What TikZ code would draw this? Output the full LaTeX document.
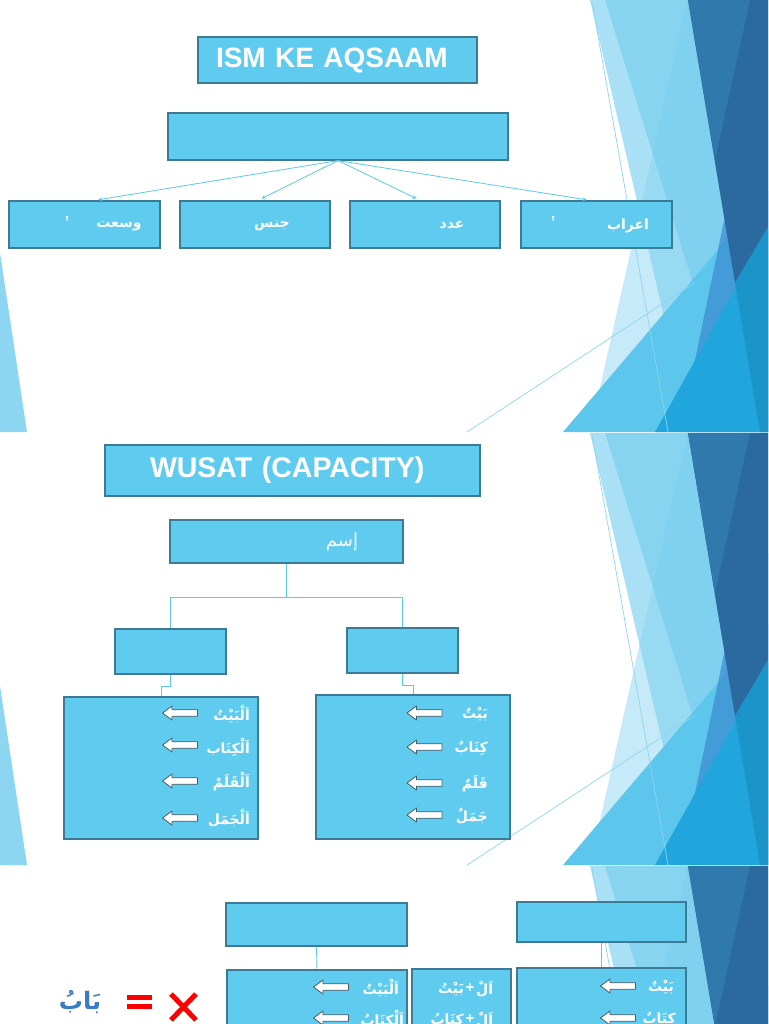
\documentclass[tikz,border=0pt]{standalone}
\usepackage{fontspec}
\setmainfont{Liberation Sans}
\newfontfamily\arabicfont[Script=Arabic]{DejaVu Sans}
\TeXXeTstate=1
\definecolor{boxfill}{HTML}{5FCBEF}
\definecolor{boxline}{HTML}{3D7B95}
\definecolor{conn}{HTML}{5BC8EE}
\definecolor{bgpale}{HTML}{C6EAF8}
\definecolor{bglight}{HTML}{86D4F1}
\definecolor{bgmid}{HTML}{6CCBEE}
\definecolor{bgdark}{HTML}{2A6A9E}
\definecolor{bgdarklight}{HTML}{2F79AD}
\definecolor{bgmedblue}{HTML}{3B8FD0}
\definecolor{bgcyan}{HTML}{5CC6EC}
\definecolor{bgcyandeep}{HTML}{20A6DD}
\definecolor{bgcyandark}{HTML}{1B94CA}
\definecolor{bgline}{HTML}{8AD6F2}
\definecolor{bgleft}{HTML}{8DD6F1}
\definecolor{arrline}{HTML}{4A5A63}
\definecolor{babblue}{HTML}{3A7CC4}
\definecolor{xred}{HTML}{FF0000}
\newcommand\ar[1]{{\arabicfont\bfseries\beginR #1\endR}}
\newcommand\arn[1]{{\arabicfont\beginR #1\endR}}
\newcommand\slidebg[1]{%
\begin{scope}[shift={(0,#1)}]
\clip (0,0) rectangle (768,432);
\fill[bgpale] (590,432) -- (687,0) -- (768,0) -- (768,432) -- cycle;
\fill[bglight, opacity=.7] (590,0) -- (768,0) -- (768,432) -- (691,432) -- cycle;
\fill[bgmid, opacity=.55] (605,0) -- (768,0) -- (768,432) -- (739,432) -- cycle;
\fill[bgcyan] (563,432) -- (768,191) -- (768,432) -- cycle;
\fill[bgmedblue, opacity=.75] (680,432) -- (745,120) -- (768,120) -- (768,432) -- cycle;
\fill[bgdark] (688,0) -- (768,0) -- (768,227) -- (735,283) -- cycle;
\fill[bgdarklight] (688,0) -- (750,0) -- (715,160) -- cycle;
\fill[bgcyandeep] (655,432) -- (768,230) -- (768,432) -- cycle;
\fill[bgcyandark] (735,283) -- (768,227) -- (768,432) -- (760,432) -- cycle;
\draw[bgline, line width=.7] (592,2) -- (668,432);
\draw[bgline, line width=.7] (467,432) -- (694,283);
\fill[bgleft] (0,253) -- (27,432) -- (0,432) -- cycle;
\end{scope}}
\begin{document}
\begin{tikzpicture}[x=1pt,y=-1pt,
  box/.style={draw=boxline, fill=boxfill, line width=1.2pt, inner sep=0pt},
  conline/.style={draw=conn, line width=0.9pt},
  conarrow/.style={draw=conn, line width=0.8pt, -stealth, shorten >=4pt},
  artext/.style={text=white, inner sep=0pt, font=\fontsize{14}{17}\selectfont},
  quotemark/.style={text=white, inner sep=0pt, font=\bfseries\fontsize{16}{18}\selectfont},
  blockarr/.pic={\draw[draw=arrline, fill=white, line width=0.8pt, line join=round]
    (-17.5,0) -- (-8,-7) -- (-8,-3.2) -- (17.5,-3.2) -- (17.5,3.2) -- (-8,3.2) -- (-8,7) -- cycle;},
  titletext/.style={text=white, font=\bfseries\fontsize{28}{30}\selectfont, align=left}
]
\useasboundingbox (0,0) rectangle (768,1024);
\clip (0,0) rectangle (768,1024);
\fill[white] (0,0) rectangle (768,1024);
\slidebg{0}
\slidebg{433}
\slidebg{866}

% ---------- slide 1 ----------
\node[box, titletext, minimum width=279, minimum height=46, text width=243, inner xsep=18] (title1) at (337.5,60) {ISM KE AQSAAM};
\node[box, minimum width=340, minimum height=47] (root) at (338,136.5) {};
\node[box, minimum width=151, minimum height=47] (k1) at (84.5,224.5) {};
\node[box, minimum width=150, minimum height=47] (k2) at (255,224.5) {};
\node[box, minimum width=150, minimum height=47] (k3) at (425,224.5) {};
\node[box, minimum width=151, minimum height=47] (k4) at (596.5,224.5) {};
\draw[conarrow] (root.south) -- ([xshift=10]k1.north);
\draw[conarrow] (root.south) -- ([xshift=3]k2.north);
\draw[conarrow] (root.south) -- ([xshift=-5]k3.north);
\draw[conarrow] (root.south) -- ([xshift=-6]k4.north);
\node[artext] (k1t) at (119,226) {\ar{وسعت}};
\node[quotemark] (k1m) at (67,222) {’};
\node[artext] (k2t) at (272,226) {\ar{جنس}};
\node[artext] (k3t) at (452,225) {\ar{عدد}};
\node[artext] (k4t) at (628,226) {\ar{اعراب}};
\node[quotemark] (k4m) at (553,222) {’};

% ---------- slide 2 ----------
\node[box, titletext, font=\bfseries\fontsize{28.5}{30}\selectfont, minimum width=375, minimum height=51, text width=285, inner xsep=45] (title2) at (292.5,470.5) {WUSAT (CAPACITY)};
\node[box, minimum width=233, minimum height=43] (ism) at (286.5,541.5) {};
\node[artext, font=\fontsize{18}{20}\selectfont] (ismt) at (342,542) {\arn{إسم}};
\node[box, minimum width=111, minimum height=45] (l1) at (170.5,651.5) {};
\node[box, minimum width=111, minimum height=45] (r1) at (402.5,650.5) {};
\node[box, minimum width=194, minimum height=142] (lb) at (161,768) {};
\node[box, minimum width=194, minimum height=144] (rb) at (413,767) {};
\draw[conline] (ism.south) -- ++(0,34) -| (l1.north);
\draw[conline] (ism.south) -- ++(0,34) -| (r1.north);
\draw[conline] (l1.south) -- ++(0,12) -| (lb.north);
\draw[conline] (r1.south) -- ++(0,12) -| (rb.north);

\node[artext, anchor=east] (lw1) at (250,714) {\ar{اَلْبَيْتُ}};
\node[artext, anchor=east] (lw2) at (250,747) {\ar{اَلْكِتَاب}};
\node[artext, anchor=east] (lw3) at (250,782) {\ar{اَلْقَلَمْ}};
\node[artext, anchor=east] (lw4) at (250,818) {\ar{اَلْجَمَل}};
\pic at (180,713) {blockarr};
\pic at (180,745) {blockarr};
\pic at (180,781) {blockarr};
\pic at (180,818) {blockarr};

\node[artext, anchor=east] (rw1) at (488,714) {\ar{بَيْتٌ}};
\node[artext, anchor=east] (rw2) at (488,748) {\ar{كِتَابٌ}};
\node[artext, anchor=east] (rw3) at (488,784) {\ar{قَلَمٌ}};
\node[artext, anchor=east] (rw4) at (488,816) {\ar{جَمَلٌ}};
\pic at (424.5,713) {blockarr};
\pic at (424.5,747) {blockarr};
\pic at (424.5,783) {blockarr};
\pic at (424.5,815) {blockarr};

% ---------- slide 3 ----------
\node[box, minimum width=181, minimum height=43] (b3l) at (316.5,924.5) {};
\node[box, minimum width=169, minimum height=40] (b3r) at (601.5,922) {};
\node[box, minimum width=180, minimum height=140] (c3l) at (317,1040) {};
\node[box, minimum width=99, minimum height=140] (c3m) at (461.5,1039) {};
\node[box, minimum width=169, minimum height=140] (c3r) at (601.5,1038) {};
\draw[conline] (b3l.south) -- (c3l.north);
\draw[conline] (b3r.south) -- (c3r.north);

\node[artext, anchor=east] (cw1) at (399,988) {\ar{اَلْبَيْتُ}};
\node[artext, anchor=east] (cw2) at (404,1019) {\ar{اَلْكِتَابُ}};
\pic at (331,987) {blockarr};
\pic at (331,1018) {blockarr};
\node[artext, anchor=west] (mw1a) at (476,989) {\ar{اَلْ}};
\node[artext, font=\bfseries\fontsize{15}{17}\selectfont] (mw1p) at (470,988) {+};
\node[artext, anchor=east] (mw1b) at (464,989) {\ar{بَيْتُ}};
\node[artext, anchor=west] (mw2a) at (476,1020) {\ar{اَلْ}};
\node[artext, font=\bfseries\fontsize{15}{17}\selectfont] (mw2p) at (470,1019) {+};
\node[artext, anchor=east] (mw2b) at (464,1020) {\ar{كِتَابُ}};
\node[artext, anchor=east] (dw1) at (674,987) {\ar{بَيْتٌ}};
\node[artext, anchor=east] (dw2) at (676,1019) {\ar{كِتَابٌ}};
\pic at (618,986) {blockarr};
\pic at (618,1018) {blockarr};

\node[text=babblue, inner sep=0pt, font=\fontsize{24}{26}\selectfont] (bab) at (80,1002) {\ar{بَابُ}};
\fill[xred] (127,995) rectangle (152,1000);
\fill[xred] (127,1004) rectangle (152,1009);
\draw[xred, line width=5pt] (171,994) -- (196,1020);
\draw[xred, line width=5pt] (196,994) -- (171,1020);
\end{tikzpicture}
\end{document}
